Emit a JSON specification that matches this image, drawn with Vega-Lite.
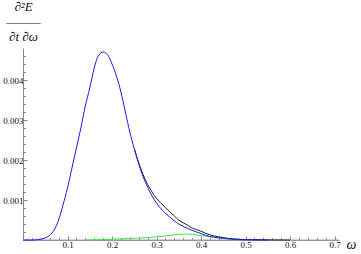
{
  "$schema": "https://vega.github.io/schema/vega-lite/v6.json",
  "autosize": "none",
  "width": 316,
  "height": 192,
  "padding": {"left": 23, "top": 48, "right": 22, "bottom": 14},
  "background": "white",
  "config": {"view": {"stroke": null}},
  "datasets": {
    "curves": [
      {"w": 0.0, "v": 0, "s": "pink"}, {"w": 0.71, "v": 0, "s": "pink"},
      {"w": 0.14, "v": 0, "s": "green"}, {"w": 0.18, "v": 0.00001, "s": "green"}, {"w": 0.2, "v": 0.00002, "s": "green"}, {"w": 0.22, "v": 0.00003, "s": "green"}, {"w": 0.24, "v": 0.00004, "s": "green"}, {"w": 0.26, "v": 0.00005, "s": "green"}, {"w": 0.28, "v": 0.00006, "s": "green"}, {"w": 0.3, "v": 0.00008, "s": "green"}, {"w": 0.32, "v": 0.0001, "s": "green"}, {"w": 0.34, "v": 0.00013, "s": "green"}, {"w": 0.36, "v": 0.00015, "s": "green"}, {"w": 0.38, "v": 0.00014, "s": "green"}, {"w": 0.4, "v": 0.00011, "s": "green"}, {"w": 0.42, "v": 0.00008, "s": "green"}, {"w": 0.44, "v": 0.00006, "s": "green"}, {"w": 0.46, "v": 0.00004, "s": "green"}, {"w": 0.48, "v": 0.00002, "s": "green"}, {"w": 0.5, "v": 0.00001, "s": "green"}, {"w": 0.53, "v": 0, "s": "green"},
      {"w": 0.25, "v": 0.00229, "s": "black"}, {"w": 0.26, "v": 0.00193, "s": "black"}, {"w": 0.27, "v": 0.00163, "s": "black"}, {"w": 0.28, "v": 0.00139, "s": "black"}, {"w": 0.29, "v": 0.0012, "s": "black"}, {"w": 0.3, "v": 0.00104, "s": "black"}, {"w": 0.31, "v": 0.00092, "s": "black"}, {"w": 0.32, "v": 0.00081, "s": "black"}, {"w": 0.33, "v": 0.0007, "s": "black"}, {"w": 0.34, "v": 0.0006, "s": "black"}, {"w": 0.35, "v": 0.0005, "s": "black"}, {"w": 0.36, "v": 0.00043, "s": "black"}, {"w": 0.37, "v": 0.00037, "s": "black"}, {"w": 0.38, "v": 0.0003, "s": "black"}, {"w": 0.39, "v": 0.00026, "s": "black"}, {"w": 0.4, "v": 0.00022, "s": "black"}, {"w": 0.41, "v": 0.00017, "s": "black"}, {"w": 0.42, "v": 0.00013, "s": "black"}, {"w": 0.43, "v": 0.0001, "s": "black"}, {"w": 0.44, "v": 0.00008, "s": "black"}, {"w": 0.45, "v": 0.00006, "s": "black"}, {"w": 0.46, "v": 0.00004, "s": "black"}, {"w": 0.47, "v": 0.00003, "s": "black"}, {"w": 0.48, "v": 0.00002, "s": "black"}, {"w": 0.5, "v": 0.00001, "s": "black"}, {"w": 0.55, "v": 0.000003, "s": "black"}, {"w": 0.6, "v": 0, "s": "black"},
      {"w": 0.0, "v": 0, "s": "blue"}, {"w": 0.02, "v": 0, "s": "blue"}, {"w": 0.03, "v": 0.000005, "s": "blue"}, {"w": 0.04, "v": 0.00002, "s": "blue"}, {"w": 0.05, "v": 0.00005, "s": "blue"}, {"w": 0.06, "v": 0.00012, "s": "blue"}, {"w": 0.07, "v": 0.00025, "s": "blue"}, {"w": 0.08, "v": 0.0005, "s": "blue"}, {"w": 0.09, "v": 0.00088, "s": "blue"}, {"w": 0.1, "v": 0.0013, "s": "blue"}, {"w": 0.11, "v": 0.0018, "s": "blue"}, {"w": 0.12, "v": 0.0023, "s": "blue"}, {"w": 0.13, "v": 0.0028, "s": "blue"}, {"w": 0.14, "v": 0.00335, "s": "blue"}, {"w": 0.15, "v": 0.0038, "s": "blue"}, {"w": 0.16, "v": 0.0043, "s": "blue"}, {"w": 0.17, "v": 0.00462, "s": "blue"}, {"w": 0.18, "v": 0.0047, "s": "blue"}, {"w": 0.19, "v": 0.00463, "s": "blue"}, {"w": 0.2, "v": 0.0044, "s": "blue"}, {"w": 0.21, "v": 0.0041, "s": "blue"}, {"w": 0.22, "v": 0.0037, "s": "blue"}, {"w": 0.23, "v": 0.0032, "s": "blue"}, {"w": 0.24, "v": 0.0027, "s": "blue"}, {"w": 0.25, "v": 0.00228, "s": "blue"}, {"w": 0.26, "v": 0.0019, "s": "blue"}, {"w": 0.27, "v": 0.00158, "s": "blue"}, {"w": 0.28, "v": 0.00132, "s": "blue"}, {"w": 0.29, "v": 0.0011, "s": "blue"}, {"w": 0.3, "v": 0.00092, "s": "blue"}, {"w": 0.31, "v": 0.00078, "s": "blue"}, {"w": 0.32, "v": 0.00067, "s": "blue"}, {"w": 0.33, "v": 0.00057, "s": "blue"}, {"w": 0.34, "v": 0.00048, "s": "blue"}, {"w": 0.35, "v": 0.0004, "s": "blue"}, {"w": 0.36, "v": 0.00034, "s": "blue"}, {"w": 0.37, "v": 0.00029, "s": "blue"}, {"w": 0.38, "v": 0.00024, "s": "blue"}, {"w": 0.39, "v": 0.0002, "s": "blue"}, {"w": 0.4, "v": 0.00016, "s": "blue"}, {"w": 0.41, "v": 0.00012, "s": "blue"}, {"w": 0.42, "v": 0.00009, "s": "blue"}, {"w": 0.43, "v": 0.00007, "s": "blue"}, {"w": 0.44, "v": 0.00005, "s": "blue"}, {"w": 0.45, "v": 0.00004, "s": "blue"}, {"w": 0.46, "v": 0.00003, "s": "blue"}, {"w": 0.47, "v": 0.00002, "s": "blue"}, {"w": 0.48, "v": 0.00001, "s": "blue"}, {"w": 0.5, "v": 0.000005, "s": "blue"}, {"w": 0.55, "v": 0, "s": "blue"}
    ]
  },
  "data": {"name": "curves"},
  "resolve": {"axis": {"x": "independent", "y": "independent"}},
  "layer": [
    {
      "mark": {"type": "line", "strokeWidth": 1, "opacity": 0},
      "encoding": {
        "x": {"field": "w", "type": "quantitative", "scale": {"domain": [0, 0.71], "nice": false, "zero": false},
          "axis": {"orient": "bottom", "values": [0.02,0.04,0.06,0.08,0.12,0.14,0.16,0.18,0.22,0.24,0.26,0.28,0.32,0.34,0.36,0.38,0.42,0.44,0.46,0.48,0.52,0.54,0.56,0.58,0.62,0.64,0.66,0.68], "labels": false, "title": null, "grid": false, "domain": false, "tickSize": -2.5, "tickColor": "#888"}},
        "y": {"field": "v", "type": "quantitative", "scale": {"domain": [0, 0.0048], "nice": false},
          "axis": {"orient": "left", "values": [0.0002,0.0004,0.0006,0.0008,0.0012,0.0014,0.0016,0.0018,0.0022,0.0024,0.0026,0.0028,0.0032,0.0034,0.0036,0.0038,0.0042,0.0044,0.0046], "labels": false, "title": null, "grid": false, "domain": false, "tickSize": -2.5, "tickColor": "#888"}},
        "detail": {"field": "s"}
      }
    },
    {
      "mark": {"type": "line", "strokeWidth": 1, "interpolate": "monotone"},
      "encoding": {
        "x": {"field": "w", "type": "quantitative",
          "axis": {"orient": "bottom", "values": [0.1,0.2,0.3,0.4,0.5,0.6,0.7], "format": ".1f", "grid": false, "domainColor": "#888", "tickColor": "#888", "tickSize": -4, "labelPadding": 4, "labelFont": "Liberation Serif, Times New Roman, DejaVu Serif, serif", "labelFontSize": 9, "labelColor": "#111",
            "title": "ω", "titleFont": "Liberation Serif, Times New Roman, DejaVu Serif, serif", "titleFontStyle": "italic", "titleFontWeight": "normal", "titleFontSize": 14, "titleColor": "#111", "titleX": 323, "titleY": 4, "titleAlign": "left", "titleBaseline": "middle"}},
        "y": {"field": "v", "type": "quantitative",
          "axis": {"orient": "left", "values": [0.001,0.002,0.003,0.004], "format": ".3f", "grid": false, "domainColor": "#888", "tickColor": "#888", "tickSize": -4, "labelPadding": 4, "labelFont": "Liberation Serif, Times New Roman, DejaVu Serif, serif", "labelFontSize": 9, "labelColor": "#111",
            "title": ["∂²E", "———", "∂t ∂ω"], "titleAngle": 0, "titleFont": "Liberation Serif, Times New Roman, DejaVu Serif, serif", "titleFontStyle": "italic", "titleFontWeight": "normal", "titleFontSize": 13, "titleColor": "#111", "titleLineHeight": 15, "titleX": 0, "titleY": -48, "titleAlign": "center", "titleBaseline": "top"}},
        "color": {"field": "s", "type": "nominal", "legend": null,
          "scale": {"domain": ["pink", "green", "black", "blue"], "range": ["#d08ad0", "#33ee33", "#222222", "#1a1aee"]}}
      }
    }
  ]
}
